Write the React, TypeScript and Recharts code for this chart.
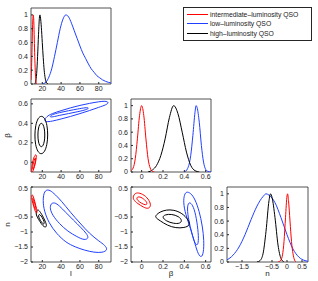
import { LineChart, Line, XAxis, YAxis, ReferenceArea } from "recharts";

type Pt = [number, number];

const RED = "#ff0000";
const BLUE = "#2040ff";
const BLACK = "#000000";
const AXIS = "#262626";

// tick labels
const lTicks = [20, 40, 60, 80];
const betaTicks = [0, 0.2, 0.4, 0.6];
const nTicks = [-2, -1.5, -1, -0.5, 0, 0.5];
const nTicksX = [-1.5, -1, -0.5, 0, 0.5];
const probTicks = [0, 0.2, 0.4, 0.6, 0.8, 1];

const lDom: [number, number] = [8, 93];
const betaDom: [number, number] = [-0.1, 0.65];
const nDom: [number, number] = [-2, 0.5];
const nDomX: [number, number] = [-2, 0.7];
const probDom: [number, number] = [0, 1.1];

// marginal of l
const interL: Pt[] = [[8, 0.06], [8.5, 0.2], [9, 0.45], [9.5, 0.75], [10, 0.95], [10.4, 1], [11, 0.9], [11.5, 0.65], [12, 0.4], [12.5, 0.2], [13, 0.08], [13.5, 0.02], [14, 0]];
const lowL: Pt[] = [[20, 0], [24, 0.03], [27, 0.1], [30, 0.22], [33, 0.4], [36, 0.6], [39, 0.8], [42, 0.94], [45, 1], [48, 0.97], [51, 0.88], [54, 0.77], [57, 0.66], [60, 0.55], [63, 0.45], [66, 0.37], [69, 0.29], [72, 0.22], [75, 0.17], [78, 0.12], [81, 0.09], [84, 0.06], [87, 0.04], [90, 0.025], [93, 0.015]];
const highL: Pt[] = [[12, 0], [13, 0.04], [14, 0.15], [15, 0.4], [16, 0.72], [17, 0.97], [17.5, 1], [18, 0.97], [19, 0.82], [20, 0.6], [21, 0.38], [22, 0.2], [23, 0.09], [24, 0.03], [25, 0.01], [26, 0]];

// marginal of beta
const interB: Pt[] = [[-0.1, 0.02], [-0.08, 0.06], [-0.06, 0.2], [-0.04, 0.5], [-0.02, 0.85], [0, 1], [0.02, 0.85], [0.04, 0.5], [0.06, 0.2], [0.08, 0.06], [0.1, 0.01], [0.12, 0]];
const lowB: Pt[] = [[0.4, 0], [0.43, 0.05], [0.46, 0.25], [0.48, 0.55], [0.5, 0.9], [0.51, 1], [0.52, 0.97], [0.54, 0.75], [0.56, 0.4], [0.58, 0.15], [0.6, 0.04], [0.62, 0.01], [0.65, 0]];
const highB: Pt[] = [[0.06, 0], [0.1, 0.03], [0.14, 0.1], [0.18, 0.25], [0.22, 0.5], [0.26, 0.82], [0.3, 1], [0.34, 0.88], [0.38, 0.6], [0.42, 0.3], [0.46, 0.1], [0.5, 0.02], [0.54, 0]];

// marginal of n
const interN: Pt[] = [[-0.3, 0], [-0.2, 0.03], [-0.1, 0.3], [-0.05, 0.65], [0, 0.97], [0.02, 1], [0.05, 0.9], [0.1, 0.6], [0.15, 0.3], [0.2, 0.12], [0.25, 0.03], [0.3, 0]];
const lowN: Pt[] = [[-2, 0.03], [-1.9, 0.06], [-1.8, 0.1], [-1.6, 0.22], [-1.4, 0.4], [-1.2, 0.62], [-1, 0.82], [-0.8, 0.96], [-0.7, 1], [-0.6, 0.98], [-0.4, 0.87], [-0.2, 0.65], [0, 0.4], [0.2, 0.19], [0.4, 0.07], [0.6, 0.02], [0.7, 0.01]];
const highN: Pt[] = [[-1, 0], [-0.9, 0.02], [-0.8, 0.12], [-0.7, 0.45], [-0.6, 0.9], [-0.55, 1], [-0.5, 0.95], [-0.4, 0.65], [-0.3, 0.25], [-0.2, 0.05], [-0.1, 0]];

// contours beta vs l
const interLB1: Pt[] = [[8.6, -0.09], [9.1, -0.03], [10.2, 0.025], [11.6, 0.062], [13, 0.082], [13.8, 0.07], [13.5, 0.03], [12.4, -0.02], [11, -0.068], [9.8, -0.1], [8.9, -0.105]];
const interLB2: Pt[] = [[9.6, -0.065], [10.2, -0.02], [11.5, 0.025], [12.6, 0.05], [13.1, 0.04], [12.4, -0.005], [11.2, -0.05], [10.1, -0.078]];
const highLB1: Pt[] = [[26, 0.28], [25.2, 0.38], [22.7, 0.455], [19, 0.48], [15.4, 0.455], [12.8, 0.38], [11.9, 0.28], [12.6, 0.18], [15.2, 0.105], [18.8, 0.08], [22.5, 0.105], [25.1, 0.18]];
const highLB2: Pt[] = [[22.8, 0.28], [22.3, 0.345], [20.9, 0.39], [19, 0.405], [17.1, 0.39], [15.7, 0.345], [15.2, 0.28], [15.7, 0.215], [17.1, 0.17], [19, 0.155], [20.9, 0.17], [22.3, 0.215]];
const lowLB1: Pt[] = [[22, 0.43], [24.5, 0.47], [30, 0.5], [40, 0.53], [50, 0.56], [60, 0.585], [70, 0.605], [80, 0.622], [87, 0.63], [91, 0.615], [88, 0.59], [80, 0.565], [70, 0.53], [60, 0.5], [50, 0.47], [40, 0.445], [30, 0.42], [24, 0.415]];
const lowLB2: Pt[] = [[27.5, 0.465], [30, 0.49], [38, 0.51], [48, 0.53], [58, 0.548], [66, 0.562], [70, 0.56], [67, 0.54], [58, 0.52], [48, 0.5], [38, 0.482], [31, 0.465]];

// contours n vs l
const interLN1: Pt[] = [[8.5, 0.25], [10, 0.24], [12, 0.02], [14, -0.24], [14.8, -0.36], [13.2, -0.38], [11, -0.16], [9, 0.05]];
const interLN2: Pt[] = [[9.5, 0.15], [10.5, 0.11], [12.5, -0.1], [13.6, -0.25], [12.6, -0.27], [10.5, -0.05]];
const highLN1: Pt[] = [[13.5, -0.3], [15.5, -0.24], [18, -0.34], [21, -0.5], [24, -0.7], [24.8, -0.83], [22, -0.84], [19, -0.73], [16, -0.58], [13.3, -0.43]];
const highLN2: Pt[] = [[16, -0.42], [17.5, -0.41], [20, -0.52], [22, -0.65], [22.2, -0.74], [20.5, -0.73], [18, -0.62], [16, -0.5]];
const lowLN1: Pt[] = [[22, 0.38], [27, 0.42], [32, 0.3], [40, 0.05], [50, -0.35], [60, -0.7], [70, -1.05], [80, -1.3], [87, -1.45], [89.5, -1.6], [84, -1.69], [75, -1.68], [65, -1.61], [55, -1.5], [45, -1.35], [35, -1.05], [27, -0.7], [22, -0.3], [20.5, 0.05]];
const lowLN2: Pt[] = [[29, -0.05], [33, -0.01], [38, -0.12], [45, -0.35], [53, -0.6], [61, -0.85], [67, -1.05], [69.5, -1.2], [65, -1.28], [57, -1.16], [47, -0.98], [38, -0.72], [31, -0.45], [28, -0.22]];

// contours n vs beta
const interBN1: Pt[] = [[-0.08, 0.2], [-0.06, 0.3], [-0.02, 0.31], [0.04, 0.2], [0.08, 0], [0.085, -0.15], [0.06, -0.23], [0.02, -0.18], [-0.04, -0.05], [-0.08, 0.08]];
const interBN2: Pt[] = [[-0.05, 0.15], [-0.02, 0.19], [0.03, 0.08], [0.055, -0.05], [0.04, -0.11], [0, -0.05], [-0.04, 0.05]];
const highBN1: Pt[] = [[0.13, -0.45], [0.17, -0.33], [0.23, -0.26], [0.3, -0.26], [0.38, -0.37], [0.44, -0.6], [0.455, -0.78], [0.4, -0.86], [0.32, -0.87], [0.24, -0.78], [0.17, -0.62], [0.13, -0.52]];
const highBN2: Pt[] = [[0.19, -0.5], [0.22, -0.42], [0.28, -0.4], [0.35, -0.48], [0.38, -0.62], [0.36, -0.72], [0.3, -0.72], [0.23, -0.64]];
const lowBN1: Pt[] = [[0.42, 0.35], [0.46, 0.3], [0.5, 0.1], [0.54, -0.3], [0.57, -0.8], [0.585, -1.3], [0.58, -1.7], [0.56, -1.86], [0.53, -1.75], [0.5, -1.4], [0.46, -0.9], [0.41, -0.4], [0.39, 0], [0.4, 0.25]];
const lowBN2: Pt[] = [[0.44, 0], [0.47, -0.05], [0.5, -0.3], [0.525, -0.8], [0.535, -1.25], [0.525, -1.46], [0.5, -1.4], [0.47, -1.05], [0.44, -0.6], [0.425, -0.2]];

const legendItems = [
  { label: "intermediate\u2013luminosity QSO", color: RED },
  { label: "low\u2013luminosity QSO", color: BLUE },
  { label: "high\u2013luminosity QSO", color: BLACK },
];

type Curve = { pts: Pt[]; color: string; closed?: boolean };

const fmt = (v: number) => (v < 0 ? "\u2212" + Math.abs(v) : String(v));
const tickStyle = { fontSize: 7, fill: "#1a1a1a", fontFamily: "Liberation Sans, Arial, sans-serif" };

function Panel(props: {
  left: number;
  top: number;
  w: number;
  h: number;
  xDom: [number, number];
  yDom: [number, number];
  xTicks: number[];
  yTicks: number[];
  curves: Curve[];
  xLabel?: string;
  yLabel?: string;
}) {
  const { left, top, w, h, xDom, yDom, xTicks, yTicks, curves, xLabel, yLabel } = props;
  const yw = yLabel ? 28 : 24;
  const xh = xLabel ? 18 : 12;
  return (
    <div style={{ position: "absolute", left: left - yw, top: top - 2 }}>
      <LineChart width={w + yw + 3} height={h + 2 + xh} margin={{ top: 2, right: 3, left: 0, bottom: 0 }} style={{ overflow: "visible" }}>
        <XAxis
          xAxisId="b"
          type="number"
          dataKey="x"
          domain={xDom}
          ticks={xTicks}
          allowDataOverflow
          height={xh}
          tickSize={-2}
          tickMargin={4}
          tickFormatter={fmt}
          tick={tickStyle}
          stroke={AXIS}
          axisLine={false}
          label={xLabel ? { value: xLabel, position: "insideBottom", offset: 4, style: { fontSize: 8, fill: "#1a1a1a" } } : undefined}
        />
        <XAxis xAxisId="t" orientation="top" type="number" domain={xDom} ticks={xTicks} allowDataOverflow height={0} tickSize={-2} tick={false} axisLine={false} stroke={AXIS} />
        <YAxis
          yAxisId="l"
          type="number"
          domain={yDom}
          ticks={yTicks}
          allowDataOverflow
          width={yw}
          tickSize={-2}
          tickMargin={5}
          tickFormatter={fmt}
          tick={tickStyle}
          stroke={AXIS}
          axisLine={false}
          label={yLabel ? { value: yLabel, angle: -90, position: "insideLeft", offset: 4, style: { fontSize: 8, fill: "#1a1a1a", textAnchor: "middle" } } : undefined}
        />
        <YAxis yAxisId="r" orientation="right" type="number" domain={yDom} ticks={yTicks} allowDataOverflow width={0} tickSize={-2} tick={false} axisLine={false} stroke={AXIS} />
        {curves.map((c, i) => (
          <Line
            key={i}
            xAxisId="b"
            yAxisId="l"
            data={c.pts.map(([x, y]) => ({ x, y }))}
            dataKey="y"
            type={c.closed ? "basisClosed" : "monotone"}
            stroke={c.color}
            strokeWidth={1}
            dot={false}
            activeDot={false}
            isAnimationActive={false}
          />
        ))}
        <ReferenceArea xAxisId="b" yAxisId="l" x1={xDom[0]} x2={xDom[1]} y1={yDom[0]} y2={yDom[1]} fill="none" stroke={AXIS} strokeWidth={0.8} ifOverflow="visible" />
      </LineChart>
    </div>
  );
}

const closed = (pts: Pt[], color: string): Curve => ({ pts, color, closed: true });

export default function App() {
  const colX = [31, 131, 227];
  const colW = [80, 80, 81];
  const rowY = [8, 99, 187];
  const rowH = [76, 73, 75];
  return (
    <div style={{ position: "absolute", left: 0, top: 0, width: 318, height: 281, background: "#fff", fontFamily: "Liberation Sans, Arial, sans-serif" }}>
      <Panel left={colX[0]} top={rowY[0]} w={colW[0]} h={rowH[0]} xDom={lDom} yDom={probDom} xTicks={lTicks} yTicks={probTicks}
        curves={[{ pts: lowL, color: BLUE }, { pts: highL, color: BLACK }, { pts: interL, color: RED }]} />
      <Panel left={colX[0]} top={rowY[1]} w={colW[0]} h={rowH[1]} xDom={lDom} yDom={betaDom} xTicks={lTicks} yTicks={betaTicks} yLabel={"\u03b2"}
        curves={[closed(lowLB1, BLUE), closed(lowLB2, BLUE), closed(highLB1, BLACK), closed(highLB2, BLACK), closed(interLB1, RED), closed(interLB2, RED)]} />
      <Panel left={colX[1]} top={rowY[1]} w={colW[1]} h={rowH[1]} xDom={betaDom} yDom={probDom} xTicks={betaTicks} yTicks={probTicks}
        curves={[{ pts: lowB, color: BLUE }, { pts: highB, color: BLACK }, { pts: interB, color: RED }]} />
      <Panel left={colX[0]} top={rowY[2]} w={colW[0]} h={rowH[2]} xDom={lDom} yDom={nDom} xTicks={lTicks} yTicks={nTicks} xLabel="l" yLabel="n"
        curves={[closed(lowLN1, BLUE), closed(lowLN2, BLUE), closed(highLN1, BLACK), closed(highLN2, BLACK), closed(interLN1, RED), closed(interLN2, RED)]} />
      <Panel left={colX[1]} top={rowY[2]} w={colW[1]} h={rowH[2]} xDom={betaDom} yDom={nDom} xTicks={betaTicks} yTicks={nTicks} xLabel={"\u03b2"}
        curves={[closed(lowBN1, BLUE), closed(lowBN2, BLUE), closed(highBN1, BLACK), closed(highBN2, BLACK), closed(interBN1, RED), closed(interBN2, RED)]} />
      <Panel left={colX[2]} top={rowY[2]} w={colW[2]} h={rowH[2]} xDom={nDomX} yDom={probDom} xTicks={nTicksX} yTicks={probTicks} xLabel="n"
        curves={[{ pts: lowN, color: BLUE }, { pts: highN, color: BLACK }, { pts: interN, color: RED }]} />

      <div style={{ position: "absolute", left: 183, top: 7, width: 127, height: 32, border: `1px solid ${AXIS}`, background: "#fff" }}>
        {legendItems.map((it, i) => (
          <div key={i} style={{ position: "absolute", left: 2, top: 2 + i * 9.3, height: 9, display: "flex", alignItems: "center", whiteSpace: "nowrap" }}>
            <svg width={22} height={9} style={{ display: "block" }}>
              <line x1={1} x2={22} y1={4.5} y2={4.5} stroke={it.color} strokeWidth={1} />
            </svg>
            <span style={{ fontSize: 6.8, color: "#1a1a1a", marginLeft: 2, lineHeight: "9px" }}>{it.label}</span>
          </div>
        ))}
      </div>
    </div>
  );
}
